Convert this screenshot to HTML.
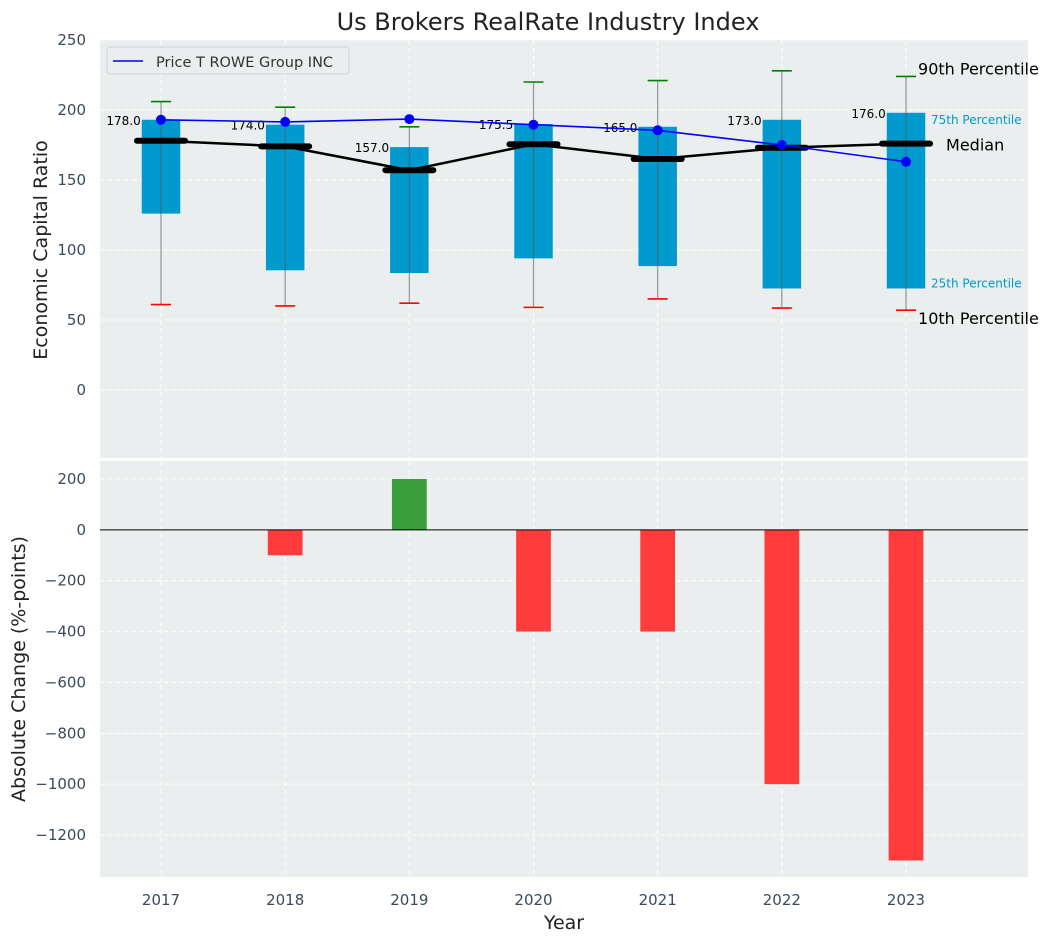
<!DOCTYPE html>
<html><head><meta charset="utf-8">
<style>
body{margin:0;background:#fff;font-family:"Liberation Sans","DejaVu Sans",sans-serif;}
svg text{font-family:"DejaVu Sans","Liberation Sans",sans-serif;}
</style></head>
<body>
<svg id="chart" width="1053" height="942" xmlns="http://www.w3.org/2000/svg"></svg>
<script>
const years=[2017,2018,2019,2020,2021,2022,2023];
const p10=[61,60,62,59,65,58.5,57];
const p25=[126,85.5,83.5,94,88.5,72.5,72.5];
const p50=[178,174,157,175.5,165,173,176];
const p75=[193,189.5,173.5,190,188,193,198];
const p90=[206,202,188,220,221,228,224];
const company=[193,191.5,193.5,189.5,185.5,175,163];
const changes=[0,-100,200,-400,-400,-1000,-1300];
const topTicks=[0,50,100,150,200,250];
const botTicks=[200,0,-200,-400,-600,-800,-1000,-1200];

const svg=document.getElementById('chart');
const NS='http://www.w3.org/2000/svg';
function el(tag,attrs,parent){const e=document.createElementNS(NS,tag);for(const k in attrs)e.setAttribute(k,attrs[k]);(parent||svg).appendChild(e);return e;}
const L=100,R=1028;
const x=v=>161+(v-2017)*124.17;
const T1=40,B1=458;
const y1=v=>T1+(250-v)*(B1-T1)/(250-(-48.6));
const T2=461,B2=877;
const y2=v=>T2+(270.8-v)*(B2-T2)/(270.8-(-1365));

let r=el('rect',{x:L,y:T1,width:R-L,height:B1-T1,fill:'#eaeeee'});

r=el('rect',{x:L,y:T2,width:R-L,height:B2-T2,fill:'#eaeeee'});


years.forEach(yr=>{
 el('line',{x1:x(yr),x2:x(yr),y1:T1,y2:B1,stroke:'#fff','stroke-dasharray':'5,3','stroke-width':1});
 el('line',{x1:x(yr),x2:x(yr),y1:T2,y2:B2,stroke:'#fff','stroke-dasharray':'5,3','stroke-width':1});
 let t=el('text',{x:x(yr),y:B2+28,'text-anchor':'middle','font-size':15,fill:'#3a4a5a'});t.textContent=yr;
 
});
topTicks.forEach(v=>{
 el('line',{x1:L,x2:R,y1:y1(v),y2:y1(v),stroke:'#fff','stroke-dasharray':'5,3','stroke-width':1});
 let t=el('text',{x:L-14,y:y1(v)+5,'text-anchor':'end','font-size':15,fill:'#3a4a5a'});t.textContent=v;
 
});
botTicks.forEach(v=>{
 el('line',{x1:L,x2:R,y1:y2(v),y2:y2(v),stroke:'#fff','stroke-dasharray':'5,3','stroke-width':1});
 let t=el('text',{x:L-14,y:y2(v)+5,'text-anchor':'end','font-size':15,fill:'#3a4a5a'});t.textContent=v<0?'\u2212'+(-v):v;
 
});

const bw=0.31;
years.forEach((yr,i)=>{
 const cx=x(yr);
 let b=el('rect',{x:x(yr-bw/2),y:y1(p75[i]),width:x(yr+bw/2)-x(yr-bw/2),height:y1(p25[i])-y1(p75[i]),fill:'#009ace'});
 
 let w=el('line',{x1:cx,x2:cx,y1:y1(p90[i]),y2:y1(p10[i]),stroke:'#555',"stroke-opacity":0.6,'stroke-width':1.2});
 
 let c=el('line',{x1:cx-10,x2:cx+10,y1:y1(p90[i]),y2:y1(p90[i]),stroke:'green','stroke-width':1.6});
 
 c=el('line',{x1:cx-10,x2:cx+10,y1:y1(p10[i]),y2:y1(p10[i]),stroke:'red','stroke-width':1.6});
 
});
let mp=el('polyline',{points:years.map((yr,i)=>x(yr)+','+y1(p50[i])).join(' '),fill:'none',stroke:'#000','stroke-width':2.5});

years.forEach((yr,i)=>{
 let m=el('line',{x1:x(yr)-24,x2:x(yr)+24,y1:y1(p50[i]),y2:y1(p50[i]),stroke:'#000','stroke-width':6,'stroke-linecap':'round'});
 
 let t=el('text',{x:x(yr-bw/2)-1,y:y1(p75[i])+5,'text-anchor':'end','font-size':12,fill:'#000'});t.textContent=p50[i].toFixed(1);
 
});
let cl=el('polyline',{points:years.map((yr,i)=>x(yr)+','+y1(company[i])).join(' '),fill:'none',stroke:'blue','stroke-width':1.6});

years.forEach((yr,i)=>{
 let d=el('circle',{cx:x(yr),cy:y1(company[i]),r:5,fill:'blue'});
 
});
const li=years.length-1,lx=x(years[li]);
[['90th Percentile',lx+12,y1(p90[li])-2,16,'#000'],['75th Percentile',lx+25,y1(p75[li])+11,12,'#009ace'],['Median',lx+40,y1(p50[li])+7,16,'#000'],['25th Percentile',lx+25,y1(p25[li])-1,12,'#009ace'],['10th Percentile',lx+12,y1(p10[li])+14,16,'#000']].forEach(a=>{
 let t=el('text',{x:a[1],y:a[2],'font-size':a[3],fill:a[4]});t.textContent=a[0];
 
});
let lg=el('g',{});
el('rect',{x:107,y:47,width:242,height:27,rx:3,fill:'#eaeeee',stroke:'#d0d4d8'},lg);
el('line',{x1:113,x2:143,y1:61,y2:61,stroke:'blue','stroke-width':1.6},lg);
let lt=el('text',{x:156,y:67,'font-size':14.5,fill:'#333'},lg);lt.textContent='Price T ROWE Group INC';

const bbw=0.28;
years.forEach((yr,i)=>{
 const v=changes[i];if(v===0)return;
 let b=el('rect',{x:x(yr-bbw/2),y:Math.min(y2(v),y2(0)),width:x(yr+bbw/2)-x(yr-bbw/2),height:Math.abs(y2(v)-y2(0)),fill:v>0?'#3a9e3a':'#ff3b3b'});
 
});
let zl=el('line',{x1:L,x2:R,y1:y2(0),y2:y2(0),stroke:'#000','stroke-width':1});


let t=el('text',{x:548,y:30,'text-anchor':'middle','font-size':24,fill:'#222'});t.textContent='Us Brokers RealRate Industry Index';

t=el('text',{x:564,y:929,'text-anchor':'middle','font-size':19,fill:'#222'});t.textContent='Year';

t=el('text',{x:0,y:0,'text-anchor':'middle','font-size':19,fill:'#222',transform:'translate(47,250) rotate(-90)'});t.textContent='Economic Capital Ratio';

t=el('text',{x:0,y:0,'text-anchor':'middle','font-size':19,fill:'#222',transform:'translate(25,669) rotate(-90)'});t.textContent='Absolute Change (%-points)';

</script>
</body></html>
